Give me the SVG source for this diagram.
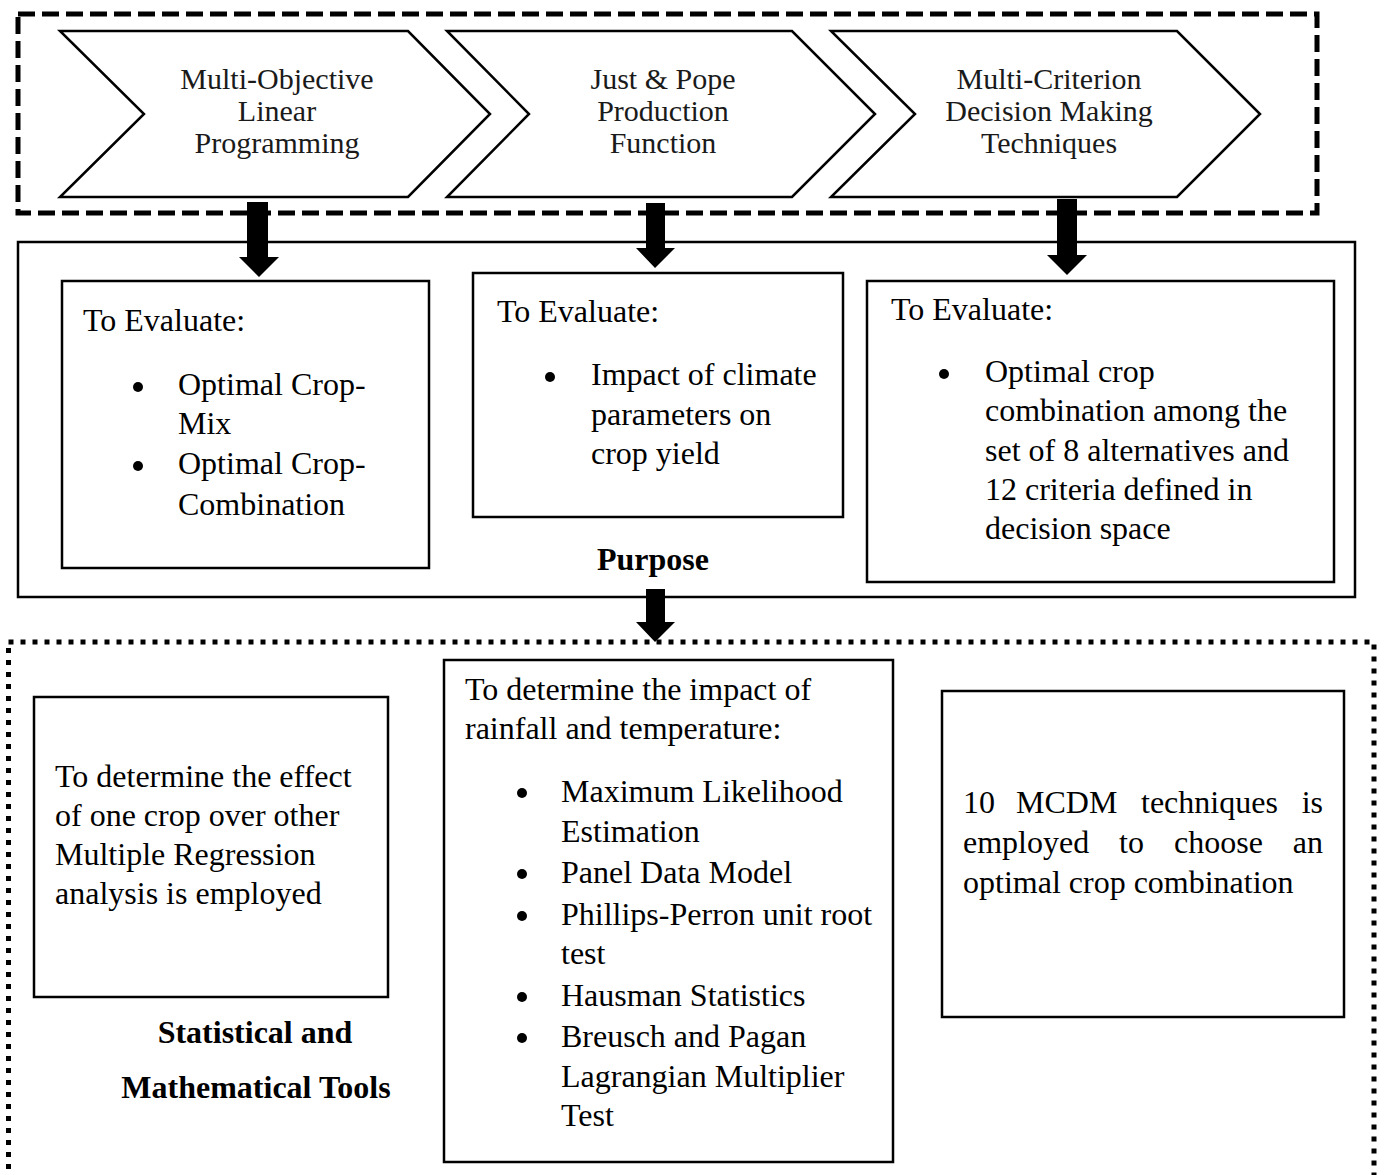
<svg xmlns="http://www.w3.org/2000/svg" width="1386" height="1175" viewBox="0 0 1386 1175">
<style>
.bg{fill:#fff}
.chev{fill:#fff;stroke:#000;stroke-width:2.5}
.box{fill:#fff;stroke:#000;stroke-width:2.5}
.dash{fill:none;stroke:#000;stroke-width:5;stroke-dasharray:17 7}
.dot{fill:none;stroke:#000;stroke-width:5;stroke-dasharray:5 7}
.ct{font-family:"Liberation Serif","Times New Roman",serif;font-size:30px;fill:#1a1a1a;text-anchor:middle}
.t{font-family:"Liberation Serif","Times New Roman",serif;font-size:32px;fill:#000}
.b{font-family:"Liberation Serif","Times New Roman",serif;font-size:32px;font-weight:bold;fill:#000;text-anchor:middle}
.arrow{fill:#000}
.bul{fill:#000}
</style>
<rect class="bg" x="0" y="0" width="1386" height="1175"/>

<g id="methods-frame">
  <rect class="dash" x="18" y="14" width="1299" height="199"/>
</g>
<g id="chevron-molp">
  <polygon class="chev" points="60,31 408,31 490,114 408,197 60,197 144,114"/>
  <text class="ct" x="277" y="89">Multi-Objective</text>
  <text class="ct" x="277" y="121">Linear</text>
  <text class="ct" x="277" y="153">Programming</text>
</g>
<g id="chevron-jp">
  <polygon class="chev" points="447,31 792,31 875,114 792,197 447,197 529,114"/>
  <text class="ct" x="663" y="89">Just &amp; Pope</text>
  <text class="ct" x="663" y="121">Production</text>
  <text class="ct" x="663" y="153">Function</text>
</g>
<g id="chevron-mcdm">
  <polygon class="chev" points="831,31 1177,31 1260,114 1177,197 831,197 915,114"/>
  <text class="ct" x="1049" y="89">Multi-Criterion</text>
  <text class="ct" x="1049" y="121">Decision Making</text>
  <text class="ct" x="1049" y="153">Techniques</text>
</g>

<g id="purpose">
  <rect class="box" x="18" y="242" width="1337" height="355"/>
  <text class="b" x="653" y="570">Purpose</text>
</g>
<g id="purpose-molp">
  <rect class="box" x="62" y="281" width="367" height="287"/>
  <text class="t" x="83" y="331">To Evaluate:</text>
  <circle class="bul" cx="138" cy="387" r="5"/>
  <text class="t" x="178" y="395">Optimal Crop-</text>
  <text class="t" x="178" y="434">Mix</text>
  <circle class="bul" cx="138" cy="466" r="5"/>
  <text class="t" x="178" y="474">Optimal Crop-</text>
  <text class="t" x="178" y="515">Combination</text>
</g>
<g id="purpose-jp">
  <rect class="box" x="473" y="273" width="370" height="244"/>
  <text class="t" x="497" y="322">To Evaluate:</text>
  <circle class="bul" cx="550" cy="377" r="5"/>
  <text class="t" x="591" y="385">Impact of climate</text>
  <text class="t" x="591" y="425">parameters on</text>
  <text class="t" x="591" y="464">crop yield</text>
</g>
<g id="purpose-mcdm">
  <rect class="box" x="867" y="281" width="467" height="301"/>
  <text class="t" x="891" y="320">To Evaluate:</text>
  <circle class="bul" cx="944" cy="374" r="5"/>
  <text class="t" x="985" y="382">Optimal crop</text>
  <text class="t" x="985" y="421">combination among the</text>
  <text class="t" x="985" y="461">set of 8 alternatives and</text>
  <text class="t" x="985" y="500">12 criteria defined in</text>
  <text class="t" x="985" y="539">decision space</text>
</g>

<g id="tools">
  <rect class="dot" x="8.5" y="642" width="1365.5" height="560"/>
  <text class="b" x="255" y="1043">Statistical and</text>
  <text class="b" x="256" y="1098">Mathematical Tools</text>
</g>
<g id="tools-regression">
  <rect class="box" x="34" y="697" width="354" height="300"/>
  <text class="t" x="55" y="787">To determine the effect</text>
  <text class="t" x="55" y="826">of one crop over other</text>
  <text class="t" x="55" y="865">Multiple Regression</text>
  <text class="t" x="55" y="904">analysis is employed</text>
</g>
<g id="tools-panel">
  <rect class="box" x="444" y="660" width="449" height="502"/>
  <text class="t" x="465" y="700">To determine the impact of</text>
  <text class="t" x="465" y="739">rainfall and temperature:</text>
  <circle class="bul" cx="522" cy="793" r="5"/>
  <text class="t" x="561" y="802">Maximum Likelihood</text>
  <text class="t" x="561" y="842">Estimation</text>
  <circle class="bul" cx="522" cy="874" r="5"/>
  <text class="t" x="561" y="883">Panel Data Model</text>
  <circle class="bul" cx="522" cy="916" r="5"/>
  <text class="t" x="561" y="925">Phillips-Perron unit root</text>
  <text class="t" x="561" y="964">test</text>
  <circle class="bul" cx="522" cy="997" r="5"/>
  <text class="t" x="561" y="1006">Hausman Statistics</text>
  <circle class="bul" cx="522" cy="1038" r="5"/>
  <text class="t" x="561" y="1047">Breusch and Pagan</text>
  <text class="t" x="561" y="1087">Lagrangian Multiplier</text>
  <text class="t" x="561" y="1126">Test</text>
</g>
<g id="tools-mcdm">
  <rect class="box" x="942" y="691" width="402" height="326"/>
  <text class="t" y="813"><tspan x="963">10</tspan> <tspan x="1016">MCDM</tspan> <tspan x="1141">techniques</tspan> <tspan x="1323" text-anchor="end">is</tspan></text>
  <text class="t" y="853"><tspan x="963">employed</tspan> <tspan x="1119">to</tspan> <tspan x="1174">choose</tspan> <tspan x="1323" text-anchor="end">an</tspan></text>
  <text class="t" x="963" y="893">optimal crop combination</text>
</g>

<g id="connectors">
  <polygon class="arrow" points="247,202 268,202 268,257 279,257 259,277 239,257 247,257"/>
  <polygon class="arrow" points="646,203 665,203 665,248 675,248 655,268 636,248 646,248"/>
  <polygon class="arrow" points="1057,199 1077,199 1077,255 1087,255 1067,275 1047,255 1057,255"/>
  <polygon class="arrow" points="646,589 665,589 665,622 675,622 655,642 636,622 646,622"/>
</g>
</svg>
